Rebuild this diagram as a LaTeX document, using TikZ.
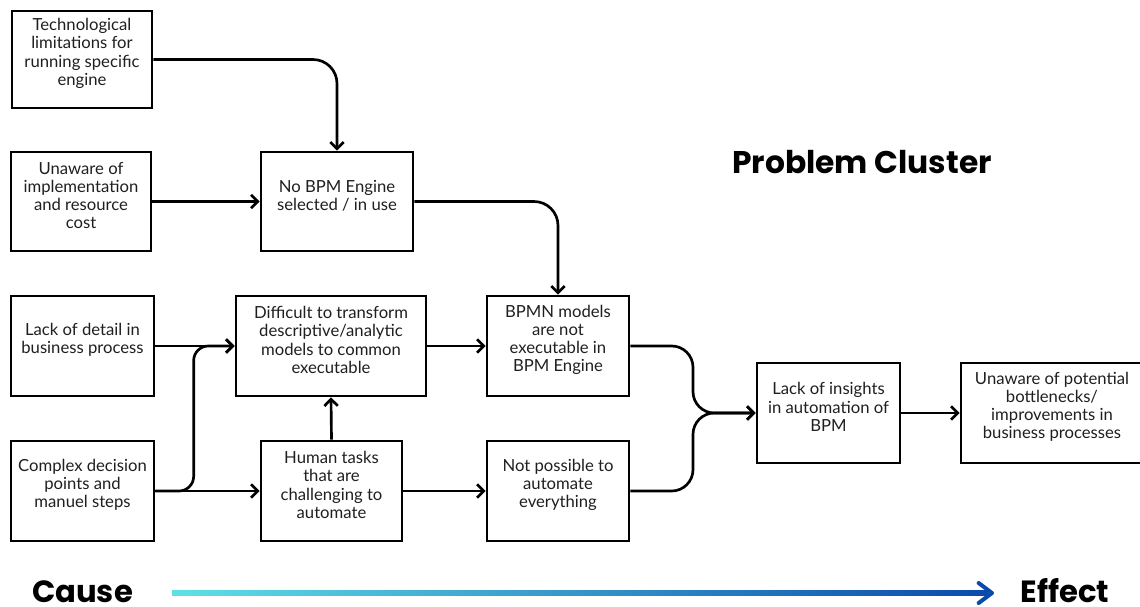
\documentclass[tikz,border=0pt]{standalone}
\usepackage{fontspec}
\usetikzlibrary{arrows.meta,fit}
\newfontfamily\boxfamily{Lato}
\newfontfamily\titlefamily{Poppins}
\definecolor{causecol}{HTML}{5FE0E6}
\definecolor{effectcol}{HTML}{0A4AAB}
\tikzset{
  box/.style={draw, line width=2pt, inner sep=0pt, align=center,
    font=\boxfamily\fontsize{12.5}{13.6}\selectfont, text=black!88},
  arr/.style={line width=2pt, -{Straight Barb[length=5pt,width=10pt]}},
  axislabel/.style={inner sep=0pt, anchor=base, font=\titlefamily\bfseries\fontsize{23}{28}\selectfont}
}
\begin{document}
\begin{tikzpicture}[x=0.75pt,y=-0.75pt]
\useasboundingbox (0,0) rectangle (1140,607);

% cause boxes (left column)
\node[box, fit={(12,11) (152,108)}] (a) {Technological\\limitations for\\running specific\\engine};
\node[box, fit={(11,152) (151,251)}] (b) {Unaware of\\implementation\\and resource\\cost};
\node[box, fit={(11,296) (154,396)}] (d) {Lack of detail in\\business process};
\node[box, fit={(11,441) (154,541)}] (g) {Complex decision\\points and\\manuel steps};

% intermediate problems
\node[box, fit={(261,152) (413,251)}] (c) {No BPM Engine\\selected / in use};
\node[box, fit={(236,296) (426,396)}] (e) {Difficult to transform\\descriptive/analytic\\models to common\\executable};
\node[box, fit={(261,441) (402,541)}] (h) {Human tasks\\that are\\challenging to\\automate};
\node[box, fit={(487,296) (629,396)}] (f) {BPMN models\\are not\\executable in\\BPM Engine};
\node[box, fit={(487,441) (629,541)}] (i) {Not possible to\\automate\\everything};

% effects
\node[box, fit={(757,363) (900,463)}] (j) {Lack of insights\\in automation of\\BPM};
\node[box, fit={(961,363) (1143,463)}] (k) {Unaware of potential\\bottlenecks/\\improvements in\\business processes};

% title
\node[font=\titlefamily\bfseries\fontsize{23.5}{28}\selectfont] (title) at (862,162) {Problem Cluster};

% connectors
\draw[arr, rounded corners=18pt] (a.east) -| (c.north);
\draw[arr] (b.east) -- (c.west);
\draw[arr, rounded corners=18pt] (c.east) -| (f.north);
\draw[arr] (d.east) -- (e.west);
\draw[arr, rounded corners=11pt] (g.east) -| ([xshift=-30.75pt]e.west) -- (e.west);
\draw[arr] (g.east) -- (h.west);
\draw[arr] (h.north) -- (e.south);
\draw[arr] (e.east) -- (f.west);
\draw[arr] (h.east) -- (i.west);
\coordinate (merge) at (693,413);
\draw[arr, rounded corners=16pt] (f.east) -| (merge) -- (j.west);
\draw[arr, rounded corners=16pt] (i.east) -| (merge) -- (j.west);
\draw[arr] (j.east) -- (k.west);

% cause -> effect axis
\node[axislabel] (cause) at (82.5,602) {Cause};
\node[axislabel] (effect) at (1065,602) {Effect};
\coordinate (axstart) at (172,593);
\coordinate (axend) at (992,593);
\shade[left color=causecol, right color=effectcol] ([yshift=1.9pt]axstart) rectangle ([xshift=-3pt,yshift=-1.9pt]axend);
\draw[effectcol, line width=3pt, line cap=round, line join=round]
  ([xshift=-10pt,yshift=7.5pt]axend) -- (axend) -- ([xshift=-10pt,yshift=-7.5pt]axend);
\end{tikzpicture}
\end{document}
